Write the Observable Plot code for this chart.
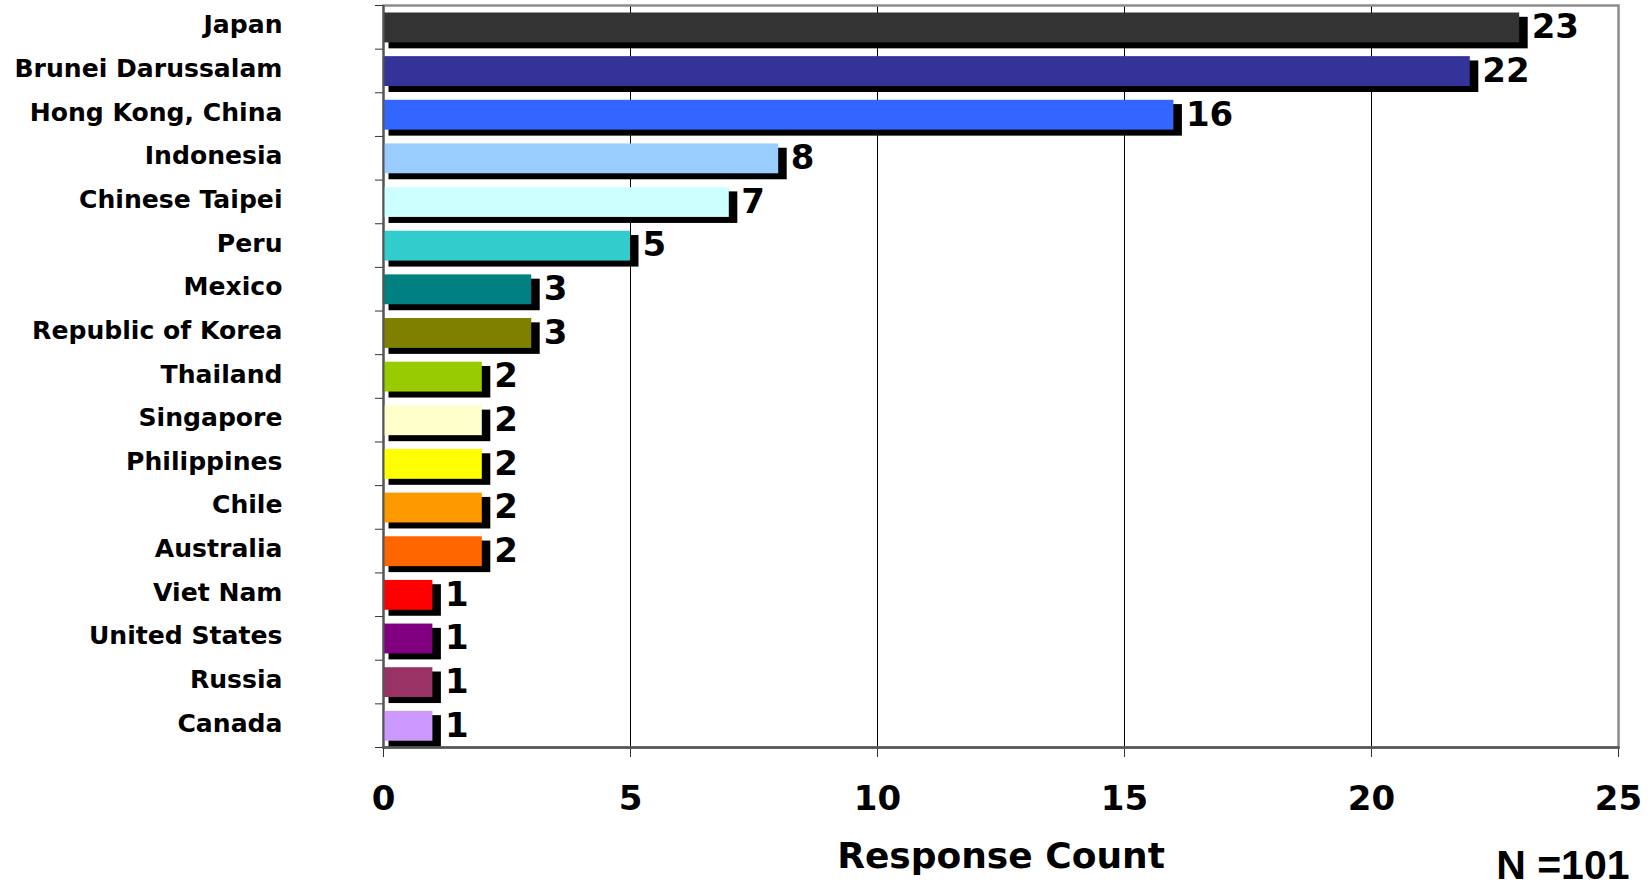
<!DOCTYPE html>
<html><head><meta charset="utf-8">
<script src="https://cdn.jsdelivr.net/npm/d3@7"></script>
<script src="https://cdn.jsdelivr.net/npm/@observablehq/plot@0.6"></script>
<style>body{margin:0;background:#fff}</style>
</head><body><div id="chart"></div>
<script>
const countries = ["Japan","Brunei Darussalam","Hong Kong, China","Indonesia","Chinese Taipei","Peru","Mexico","Republic of Korea","Thailand","Singapore","Philippines","Chile","Australia","Viet Nam","United States","Russia","Canada"];
const counts = [23,22,16,8,7,5,3,3,2,2,2,2,2,1,1,1,1];
const colors = ["#333333","#333399","#3366FF","#99CCFF","#CCFFFF","#33CCCC","#008080","#808000","#99CC00","#FFFFCC","#FFFF00","#FF9900","#FF6600","#FF0000","#800080","#993366","#CC99FF"];
const xTicks = [0,5,10,15,20,25];
const xLabel = "Response Count";
const note = "N =101";

const data = countries.map((c,i)=>({country:c, count:counts[i]}));
const W=1652, H=887, mt=5, mb=140, ml=383, mr=34;
const band=(H-mt-mb)/countries.length;

const chart = Plot.plot({
  width:W, height:H, marginTop:mt, marginBottom:mb, marginLeft:ml, marginRight:mr,
  style:{fontFamily:"DejaVu Sans", fontWeight:"bold", color:"#000", background:"#fff"},
  x:{domain:[0,25]},
  y:{domain:countries, padding:0, round:false},
  color:{domain:countries, range:colors},
  marks:[
    Plot.gridX(xTicks.slice(1,-1), {stroke:"#000", strokeOpacity:1, strokeWidth:1}),
    Plot.frame({stroke:"#8c8c8c", strokeWidth:2.5}),
    Plot.barX(data, {x:"count", y:"country", fill:"#000", insetTop:11.8, insetBottom:0.3, dx:5.5, insetRight:-3}),
    Plot.barX(data, {x:"count", y:"country", fill:"country", insetTop:7.5, insetBottom:6.3}),
    Plot.text(data, {x:"count", y:"country", text:d=>String(d.count), dx:12, dy:0, textAnchor:"start", fontSize:34, fill:"#000"}),
    Plot.axisY({tickSize:0, tickPadding:101, fontSize:25.1, dy:-2, label:null}),
    Plot.axisY({tickSize:8, tickFormat:()=>"", dy:-band/2, stroke:"#333", label:null}),
    Plot.axisY([countries[countries.length-1]], {tickSize:8, tickFormat:()=>"", dy:band/2, stroke:"#333", label:null}),
    Plot.axisX(xTicks, {tickSize:10, tickPadding:28, fontSize:34, label:null, stroke:"#333"}),
    Plot.ruleX([0], {stroke:"#555", strokeWidth:2}),
    Plot.frame({anchor:"bottom", stroke:"#555", strokeWidth:2.5}),
    Plot.text([xLabel], {frameAnchor:"bottom", dy:120, fontSize:36, fill:"#000"}),
    Plot.text([note], {frameAnchor:"bottom-right", dy:131, dx:11, textAnchor:"end", fontSize:41, fontFamily:"Liberation Sans", fill:"#000"})
  ]
});
document.getElementById("chart").appendChild(chart);
</script>
</body></html>
